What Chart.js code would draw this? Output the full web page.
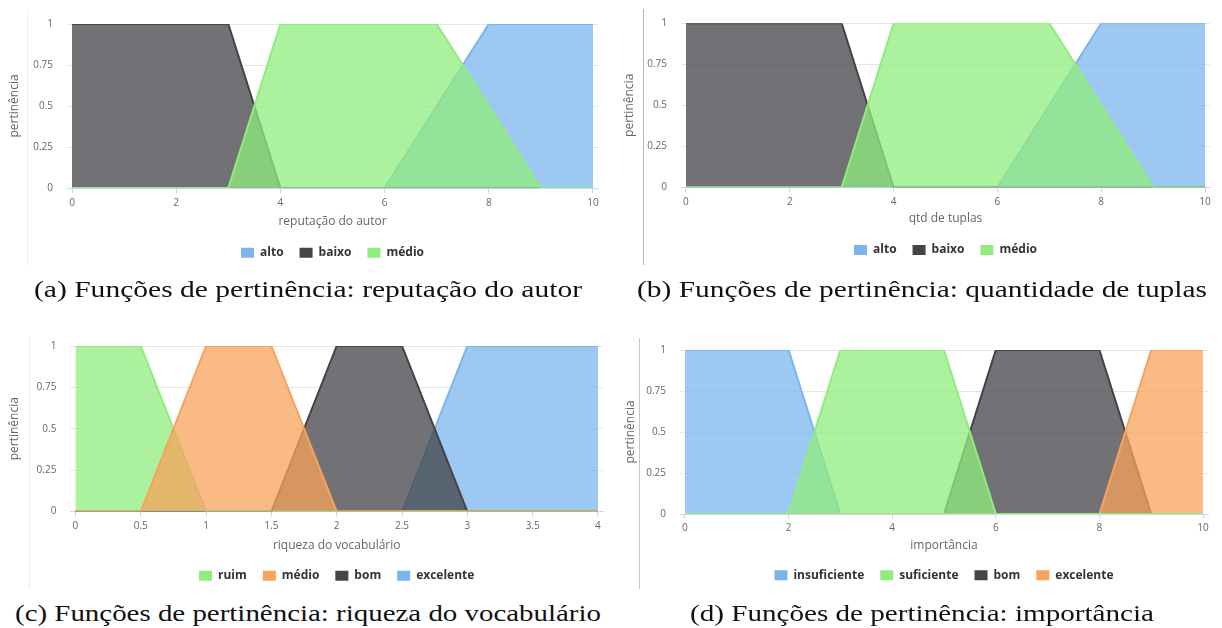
<!DOCTYPE html>
<html>
<head>
<meta charset="utf-8">
<script src="https://cdn.jsdelivr.net/npm/chart.js@4/dist/chart.umd.min.js"></script>
<style>
  html, body { margin: 0; padding: 0; background: #fff; }
  body { width: 1222px; height: 628px; position: relative; overflow: hidden; }
  canvas { position: absolute; }
  .sep { position: absolute; width: 1px; }
  .cap { position: absolute; white-space: nowrap; font-family: "Liberation Serif", "DejaVu Serif", serif;
         font-size: 23px; color: #111; transform-origin: 0 50%; line-height: 1; }
</style>
</head>
<body>
<div class="sep" style="left:27px;top:10px;height:255px;background:#f0f0f0"></div>
<div class="sep" style="left:643px;top:9px;height:256px;background:#b8b8b8"></div>
<div class="sep" style="left:29px;top:337px;height:252px;background:#ebebeb"></div>
<div class="sep" style="left:639px;top:338px;height:251px;background:#c8c8c8"></div>

<canvas id="ca" width="612" height="275" style="left:0;top:0"></canvas>
<canvas id="cb" width="612" height="275" style="left:610px;top:0"></canvas>
<canvas id="cc" width="612" height="300" style="left:0;top:300px"></canvas>
<canvas id="cd" width="612" height="300" style="left:610px;top:300px"></canvas>

<div class="cap" id="capa">(a) Funções de pertinência: reputação do autor</div>
<div class="cap" id="capb">(b) Funções de pertinência: quantidade de tuplas</div>
<div class="cap" id="capc">(c) Funções de pertinência: riqueza do vocabulário</div>
<div class="cap" id="capd">(d) Funções de pertinência: importância</div>

<script>
// ---------- data ----------
const yTicks = [0, 0.25, 0.5, 0.75, 1];
const yTitle = 'pertinência';

// (a) reputação do autor
const repTicks = [0, 2, 4, 6, 8, 10];
const repLabels = ['alto', 'baixo', 'médio'];
const repAltoX = [0, 6, 8, 10];         const repAltoY = [0, 0, 1, 1];
const repBaixoX = [0, 3, 4, 10];        const repBaixoY = [1, 1, 0, 0];
const repMedioX = [0, 3, 4, 7, 9, 10];  const repMedioY = [0, 0, 1, 1, 0, 0];

// (b) qtd de tuplas
const tupTicks = [0, 2, 4, 6, 8, 10];
const tupLabels = ['alto', 'baixo', 'médio'];
const tupAltoX = [0, 6, 8, 10];         const tupAltoY = [0, 0, 1, 1];
const tupBaixoX = [0, 3, 4, 10];        const tupBaixoY = [1, 1, 0, 0];
const tupMedioX = [0, 3, 4, 7, 9, 10];  const tupMedioY = [0, 0, 1, 1, 0, 0];

// (c) riqueza do vocabulário
const vocTicks = [0, 0.5, 1, 1.5, 2, 2.5, 3, 3.5, 4];
const vocLabels = ['ruim', 'médio', 'bom', 'excelente'];
const vocRuimX = [0, 0.5, 1, 4];                 const vocRuimY = [1, 1, 0, 0];
const vocMedioX = [0, 0.5, 1, 1.5, 2, 4];        const vocMedioY = [0, 0, 1, 1, 0, 0];
const vocBomX = [0, 1.5, 2, 2.5, 3, 4];          const vocBomY = [0, 0, 1, 1, 0, 0];
const vocExcX = [0, 2.5, 3, 4];                  const vocExcY = [0, 0, 1, 1];

// (d) importância
const impTicks = [0, 2, 4, 6, 8, 10];
const impLabels = ['insuficiente', 'suficiente', 'bom', 'excelente'];
const impInsX = [0, 2, 3, 10];                   const impInsY = [1, 1, 0, 0];
const impSufX = [0, 2, 3, 5, 6, 10];             const impSufY = [0, 0, 1, 1, 0, 0];
const impBomX = [0, 5, 6, 8, 9, 10];             const impBomY = [0, 0, 1, 1, 0, 0];
const impExcX = [0, 8, 9, 10];                   const impExcY = [0, 0, 1, 1];

// ---------- styling ----------
const BLUE = [124, 181, 236], DARK = [67, 67, 72], GREEN = [144, 237, 125], ORANGE = [247, 163, 92];
const rgba = (c, a) => `rgba(${c[0]},${c[1]},${c[2]},${a})`;
Chart.defaults.font.family = "'Open Sans', 'Noto Sans', sans-serif";

function pts(xs, ys) { return xs.map((x, i) => ({ x: x, y: ys[i] })); }
function ds(label, xs, ys, col, order) {
  return {
    label: label, data: pts(xs, ys), order: order,
    borderColor: rgba(col, 1), backgroundColor: rgba(col, 0.75),
    borderWidth: 2, fill: 'origin', pointRadius: 0, tension: 0
  };
}

function makeChart(id, datasets, ticks, xTitle, g) {
  const xmin = ticks[0], xmax = ticks[ticks.length - 1];
  new Chart(document.getElementById(id), {
    type: 'line',
    data: { datasets: datasets },
    options: {
      responsive: false, animation: false,
      layout: { padding: { left: g.pl, right: g.pr, top: g.pt, bottom: g.pb } },
      plugins: {
        tooltip: { enabled: false },
        legend: {
          position: 'bottom', fullSize: false,
          labels: {
            boxWidth: 13, boxHeight: 10, padding: 16, color: '#333',
            font: { size: 12, weight: 'bold' },
            sort: (a, b) => a.datasetIndex - b.datasetIndex,
            generateLabels: (chart) => Chart.defaults.plugins.legend.labels.generateLabels(chart).map(l => {
              const c = chart.data.datasets[l.datasetIndex].borderColor;
              return Object.assign(l, { fillStyle: c, strokeStyle: c, lineWidth: 0 });
            })
          }
        }
      },
      scales: {
        x: {
          type: 'linear', min: xmin - g.xp * (xmax - xmin), max: xmax + g.xp * (xmax - xmin),
          afterBuildTicks: (s) => { s.ticks = ticks.map(v => ({ value: v })); },
          afterFit: (s) => { s.height = g.xh; },
          ticks: { color: '#666', font: { size: 10 }, padding: g.tp, maxRotation: 0, autoSkip: false,
                   callback: (v) => String(v) },
          grid: { drawOnChartArea: false, drawTicks: true, tickLength: 5, color: '#ccd6eb' },
          border: { display: true, color: '#ccd6eb' },
          title: { display: true, text: xTitle, color: '#666', font: { size: 12 },
                   padding: { top: 0, bottom: g.tpb } }
        },
        y: {
          min: 0, max: 1,
          afterBuildTicks: (s) => { s.ticks = yTicks.map(v => ({ value: v })); },
          afterFit: (s) => { s.width = g.yw; },
          ticks: { color: '#666', font: { size: 10 }, padding: 14, callback: (v) => String(v) },
          grid: { color: '#e6e6e6', drawTicks: false },
          border: { display: false },
          title: { display: true, text: yTitle, color: '#666', font: { size: 12 },
                   padding: { top: 3.8, bottom: 0 } }
        }
      }
    }
  });
}

makeChart('ca', [
  ds(repLabels[0], repAltoX, repAltoY, BLUE, 2),
  ds(repLabels[1], repBaixoX, repBaixoY, DARK, 1),
  ds(repLabels[2], repMedioX, repMedioY, GREEN, 0)
], repTicks, 'reputação do autor',
  { pl: 4, yw: 63, pr: 14, pt: 24, pb: 6.3, xh: 42.7, tpb: 1.8, tp: 4, xp: 0.0096 });

makeChart('cb', [
  ds(tupLabels[0], tupAltoX, tupAltoY, BLUE, 2),
  ds(tupLabels[1], tupBaixoX, tupBaixoY, DARK, 1),
  ds(tupLabels[2], tupMedioX, tupMedioY, GREEN, 0)
], tupTicks, 'qtd de tuplas',
  { pl: 9, yw: 62, pr: 12, pt: 23.3, pb: 9, xh: 40.7, tpb: 1.8, tp: 4, xp: 0.0096 });

makeChart('cc', [
  ds(vocLabels[0], vocRuimX, vocRuimY, GREEN, 1),
  ds(vocLabels[1], vocMedioX, vocMedioY, ORANGE, 0),
  ds(vocLabels[2], vocBomX, vocBomY, DARK, 2),
  ds(vocLabels[3], vocExcX, vocExcY, BLUE, 3)
], vocTicks, 'riqueza do vocabulário',
  { pl: 3.5, yw: 66.9, pr: 9, pt: 46, pb: 8.3, xh: 42.2, tpb: 0.8, tp: 4, xp: 0.0096 });

makeChart('cd', [
  ds(impLabels[0], impInsX, impInsY, BLUE, 1),
  ds(impLabels[1], impSufX, impSufY, GREEN, 0),
  ds(impLabels[2], impBomX, impBomY, DARK, 1),
  ds(impLabels[3], impExcX, impExcY, ORANGE, 0)
], impTicks, 'importância',
  { pl: 9.5, yw: 60.5, pr: 14, pt: 50, pb: 8.7, xh: 39.3, tpb: 0.1, tp: 3.5, xp: 0.0096 });

// captions: fit into measured spans
function placeCap(id, x0, x1, cy) {
  const el = document.getElementById(id);
  const r = el.getBoundingClientRect();
  el.style.left = x0 + 'px';
  el.style.top = (cy - r.height / 2) + 'px';
  el.style.transform = 'scaleX(' + ((x1 - x0) / r.width) + ')';
}
placeCap('capa', 34, 582, 289);
placeCap('capb', 637, 1207, 289);
placeCap('capc', 15, 601, 613);
placeCap('capd', 690, 1154, 613);
</script>
</body>
</html>
